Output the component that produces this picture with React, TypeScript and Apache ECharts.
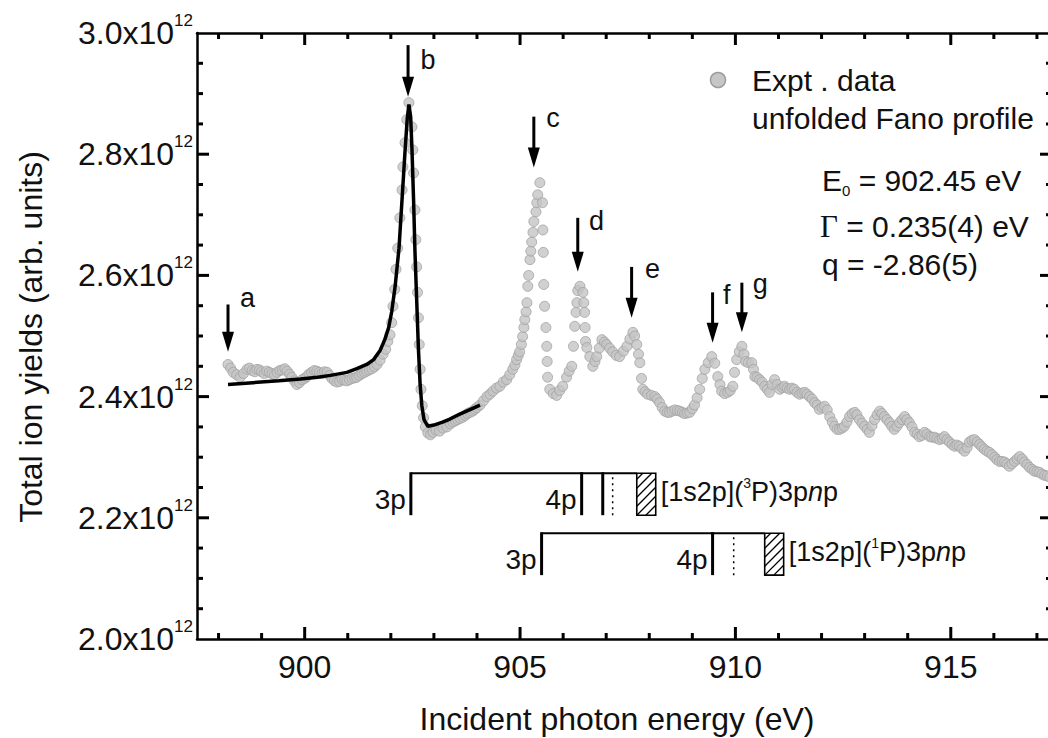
import React, { useEffect, useRef } from "react";
import * as echarts from "echarts";

const FONT = "'Liberation Sans', Arial, Helvetica, sans-serif";
const SERIF = "'Liberation Serif', 'DejaVu Serif', serif";

const X_MIN = 897.5;
const X_MAX = 917.35;
const Y_MIN = 2.0;
const Y_MAX = 3.0;
const Y_INTERVAL = 0.2;
const xMajorTicks = [900, 905, 910, 915];
const xMinorTicks = [898, 899, 901, 902, 903, 904, 906, 907, 908, 909, 911, 912, 913, 914, 916, 917];
const yMajorTicks = [2.2, 2.4, 2.6, 2.8];
const yMinorTicks = [2.05, 2.1, 2.15, 2.25, 2.3, 2.35, 2.45, 2.5, 2.55, 2.65, 2.7, 2.75, 2.85, 2.9, 2.95];
const yExponent = 12;

// Experimental total ion yield (units of 1e12)
const exptData: [number, number][] = [
  [898.22, 2.453], [898.28, 2.447], [898.34, 2.44], [898.42, 2.436], [898.5, 2.432], [898.58, 2.438], [898.66, 2.445],
  [898.72, 2.447], [898.78, 2.443], [898.84, 2.441], [898.89, 2.445], [898.95, 2.444], [899.0, 2.441], [899.06, 2.438],
  [899.12, 2.442], [899.18, 2.44], [899.24, 2.438], [899.3, 2.436], [899.36, 2.44], [899.42, 2.443], [899.48, 2.444],
  [899.54, 2.446], [899.59, 2.442], [899.65, 2.437], [899.7, 2.432], [899.76, 2.426], [899.82, 2.42], [899.88, 2.423],
  [899.94, 2.428], [900.0, 2.43], [900.05, 2.433], [900.1, 2.437], [900.16, 2.44], [900.22, 2.443], [900.28, 2.442],
  [900.34, 2.44], [900.4, 2.438], [900.46, 2.441], [900.52, 2.44], [900.58, 2.435], [900.63, 2.43], [900.69, 2.426],
  [900.75, 2.424], [900.81, 2.425], [900.87, 2.428], [900.93, 2.427], [900.98, 2.426], [901.04, 2.428], [901.1, 2.43],
  [901.16, 2.431], [901.21, 2.432], [901.27, 2.435], [901.33, 2.438], [901.39, 2.44], [901.44, 2.442], [901.5, 2.444],
  [901.56, 2.446], [901.62, 2.449], [901.68, 2.453], [901.75, 2.46], [901.82, 2.47],
  [901.88, 2.478], [901.93, 2.491], [901.98, 2.502], [902.02, 2.522], [902.05, 2.549], [902.09, 2.577], [902.12, 2.61],
  [902.16, 2.645], [902.21, 2.695], [902.26, 2.741], [902.28, 2.779], [902.33, 2.819], [902.37, 2.857], [902.42, 2.885],
  [902.49, 2.845], [902.51, 2.807], [902.53, 2.769], [902.56, 2.708], [902.58, 2.659], [902.6, 2.614], [902.62, 2.572],
  [902.64, 2.53], [902.66, 2.486], [902.68, 2.445], [902.7, 2.412], [902.73, 2.385], [902.76, 2.365], [902.8, 2.35],
  [902.86, 2.34], [902.92, 2.337], [902.98, 2.341], [903.05, 2.345], [903.13, 2.343], [903.21, 2.348], [903.3, 2.35],
  [903.38, 2.355], [903.44, 2.358], [903.5, 2.36], [903.55, 2.362], [903.61, 2.364], [903.67, 2.366], [903.73, 2.369],
  [903.78, 2.372], [903.84, 2.374], [903.9, 2.376], [903.95, 2.379], [904.0, 2.382],
  [904.07, 2.386], [904.15, 2.393], [904.23, 2.4], [904.3, 2.404], [904.37, 2.409], [904.45, 2.414], [904.53, 2.417],
  [904.61, 2.424], [904.69, 2.428], [904.76, 2.436], [904.83, 2.445], [904.88, 2.452], [904.92, 2.461], [904.96, 2.468],
  [904.99, 2.474], [905.03, 2.486], [905.06, 2.499], [905.09, 2.514], [905.11, 2.527], [905.14, 2.54], [905.16, 2.555],
  [905.18, 2.582], [905.2, 2.6], [905.23, 2.626], [905.25, 2.64], [905.27, 2.655], [905.3, 2.671], [905.32, 2.689],
  [905.37, 2.705], [905.39, 2.72], [905.41, 2.733], [905.46, 2.753], [905.52, 2.72], [905.53, 2.675], [905.54, 2.638],
  [905.55, 2.585], [905.57, 2.549], [905.6, 2.514], [905.62, 2.483], [905.63, 2.458], [905.64, 2.432], [905.69, 2.412],
  [905.77, 2.405], [905.85, 2.402], [905.92, 2.41], [905.99, 2.417], [906.08, 2.432], [906.14, 2.442], [906.2, 2.45],
  [906.24, 2.483], [906.27, 2.516], [906.3, 2.539], [906.32, 2.555], [906.34, 2.575], [906.39, 2.582], [906.46, 2.572],
  [906.48, 2.555], [906.5, 2.539], [906.51, 2.514], [906.52, 2.491], [906.55, 2.481], [906.62, 2.466], [906.69, 2.45],
  [906.74, 2.458], [906.78, 2.466], [906.84, 2.48], [906.9, 2.494], [906.96, 2.49], [907.01, 2.486], [907.08, 2.48],
  [907.15, 2.474], [907.23, 2.468], [907.31, 2.466], [907.4, 2.475], [907.48, 2.483], [907.55, 2.495], [907.62, 2.506],
  [907.66, 2.5], [907.71, 2.486], [907.75, 2.47], [907.78, 2.456], [907.82, 2.43], [907.85, 2.412], [907.9, 2.408],
  [907.96, 2.404], [908.05, 2.402], [908.13, 2.4], [908.18, 2.396], [908.24, 2.39], [908.3, 2.382], [908.36, 2.376],
  [908.42, 2.374], [908.47, 2.374], [908.53, 2.376], [908.59, 2.378], [908.65, 2.377], [908.71, 2.376], [908.77, 2.374],
  [908.82, 2.372], [908.88, 2.373], [908.94, 2.374], [909.0, 2.38],
  [909.05, 2.386], [909.11, 2.398], [909.17, 2.412], [909.23, 2.43], [909.29, 2.445], [909.37, 2.456], [909.45, 2.466],
  [909.52, 2.455], [909.59, 2.433], [909.64, 2.42], [909.68, 2.409], [909.75, 2.405], [909.82, 2.407], [909.88, 2.41],
  [909.94, 2.417], [909.98, 2.44], [910.03, 2.461], [910.09, 2.474], [910.15, 2.483], [910.2, 2.47], [910.24, 2.458],
  [910.3, 2.456], [910.38, 2.456], [910.42, 2.445], [910.45, 2.433], [910.5, 2.432], [910.56, 2.428], [910.62, 2.424],
  [910.68, 2.417], [910.74, 2.412], [910.79, 2.407], [910.85, 2.42], [910.91, 2.428], [910.97, 2.42], [911.03, 2.412],
  [911.09, 2.415], [911.14, 2.417], [911.2, 2.414], [911.26, 2.412], [911.31, 2.414], [911.37, 2.412], [911.43, 2.407],
  [911.49, 2.404], [911.55, 2.406], [911.61, 2.407], [911.66, 2.404], [911.72, 2.4], [911.78, 2.396], [911.84, 2.39],
  [911.9, 2.386], [911.95, 2.379], [912.01, 2.382], [912.07, 2.384], [912.13, 2.378], [912.19, 2.367], [912.25, 2.358],
  [912.3, 2.351], [912.36, 2.346], [912.42, 2.346], [912.48, 2.348], [912.53, 2.351], [912.59, 2.358], [912.65, 2.367],
  [912.71, 2.372], [912.77, 2.374], [912.82, 2.37], [912.88, 2.362], [912.94, 2.356], [913.0, 2.351], [913.06, 2.346],
  [913.11, 2.341], [913.17, 2.352], [913.23, 2.362], [913.29, 2.37], [913.35, 2.376], [913.4, 2.372], [913.46, 2.367],
  [913.52, 2.362], [913.58, 2.357], [913.63, 2.351], [913.69, 2.346], [913.75, 2.351], [913.81, 2.357], [913.87, 2.362],
  [913.93, 2.367], [913.98, 2.362], [914.04, 2.357], [914.1, 2.35], [914.16, 2.341], [914.22, 2.338], [914.27, 2.334],
  [914.33, 2.336], [914.39, 2.341], [914.45, 2.338], [914.51, 2.334], [914.56, 2.333], [914.62, 2.333], [914.68, 2.331],
  [914.74, 2.329], [914.8, 2.331], [914.85, 2.334], [914.91, 2.329], [914.97, 2.325], [915.03, 2.321], [915.09, 2.318],
  [915.14, 2.32], [915.2, 2.318], [915.26, 2.314], [915.32, 2.31], [915.38, 2.316], [915.43, 2.325], [915.49, 2.328],
  [915.55, 2.329], [915.61, 2.325], [915.67, 2.321], [915.72, 2.317], [915.78, 2.313], [915.84, 2.31], [915.9, 2.308],
  [915.96, 2.304], [916.02, 2.3], [916.07, 2.296], [916.13, 2.293], [916.19, 2.293], [916.25, 2.292], [916.3, 2.289],
  [916.36, 2.285], [916.42, 2.289], [916.48, 2.293], [916.54, 2.297], [916.6, 2.301], [916.66, 2.297], [916.71, 2.292],
  [916.77, 2.288], [916.83, 2.283], [916.89, 2.28], [916.94, 2.277], [917.0, 2.276], [917.06, 2.275], [917.12, 2.272],
  [917.18, 2.27], [917.24, 2.269], [917.3, 2.267],
];

// Unfolded Fano profile fit
const fanoData: [number, number][] = [
  [898.22, 2.42], [898.8, 2.423], [899.4, 2.426], [899.9, 2.429], [900.3, 2.432], [900.6, 2.435], [900.98, 2.44],
  [901.21, 2.446], [901.44, 2.453], [901.6, 2.461], [901.75, 2.476], [901.86, 2.494], [901.95, 2.514], [902.02, 2.54],
  [902.1, 2.582], [902.19, 2.645], [902.26, 2.725], [902.33, 2.805], [902.38, 2.858], [902.42, 2.882], [902.46, 2.862],
  [902.49, 2.81], [902.53, 2.72], [902.56, 2.64], [902.6, 2.56], [902.64, 2.48], [902.68, 2.42], [902.72, 2.385],
  [902.77, 2.362], [902.86, 2.351], [903.0, 2.353], [903.2, 2.358], [903.37, 2.363], [903.6, 2.371], [903.85, 2.379],
  [904.07, 2.386],
];

// Peak markers: arrow x, arrow top, arrow tip, label position (data units)
const arrowMarks = [
  { label: "a", x: 898.22, yTop: 2.552, yTip: 2.474, lx: 898.5, ly: 2.562 },
  { label: "b", x: 902.4, yTop: 2.98, yTip: 2.895, lx: 902.69, ly: 2.956 },
  { label: "c", x: 905.32, yTop: 2.862, yTip: 2.778, lx: 905.61, ly: 2.86 },
  { label: "d", x: 906.34, yTop: 2.695, yTip: 2.606, lx: 906.6, ly: 2.689 },
  { label: "e", x: 907.59, yTop: 2.614, yTip: 2.53, lx: 907.9, ly: 2.61 },
  { label: "f", x: 909.47, yTop: 2.572, yTip: 2.489, lx: 909.71, ly: 2.568 },
  { label: "g", x: 910.15, yTop: 2.588, yTip: 2.506, lx: 910.4, ly: 2.585 },
];

// Rydberg series level diagrams
const levelSets = [
  {
    yTop: 2.2735, yBottom: 2.2043, solid: [902.465, 906.43, 906.92], dotted: [907.15], box: [907.71, 908.15],
    names: [{ text: "3p", x: 902.465 }, { text: "4p", x: 906.43 }], term: "3",
  },
  {
    yTop: 2.1746, yBottom: 2.1054, solid: [905.5, 909.47], dotted: [909.96], box: [910.68, 911.12],
    names: [{ text: "3p", x: 905.5 }, { text: "4p", x: 909.47 }], term: "1",
  },
];

function buildTicks(chart: echarts.ECharts) {
  const P = (x: number, y: number) => chart.convertToPixel({ gridIndex: 0 }, [x, y]) as number[];
  const els: any[] = [];
  [...xMajorTicks, ...xMinorTicks].forEach((v) => {
    const pb = P(v, Y_MIN);
    const pt = P(v, Y_MAX);
    const len = xMajorTicks.includes(v) ? 12 : 6;
    els.push({ type: "rect", z: 10, shape: { x: pb[0] - 1.5, y: pb[1] - len, width: 3, height: len }, style: { fill: "#000" } });
    els.push({ type: "rect", z: 10, shape: { x: pt[0] - 1.5, y: pt[1], width: 3, height: len }, style: { fill: "#000" } });
  });
  [...yMajorTicks, ...yMinorTicks].forEach((v) => {
    const pl = P(X_MIN, v);
    const pr = P(X_MAX, v);
    const len = yMajorTicks.includes(v) ? 12 : 6;
    els.push({ type: "rect", z: 10, shape: { x: pl[0], y: pl[1] - 1.5, width: len, height: 3 }, style: { fill: "#000" } });
    els.push({ type: "rect", z: 10, shape: { x: pr[0] - len, y: pr[1] - 1.5, width: len, height: 3 }, style: { fill: "#000" } });
  });
  return els;
}

function buildAnnotations(chart: echarts.ECharts) {
  const P = (x: number, y: number) => chart.convertToPixel({ gridIndex: 0 }, [x, y]) as number[];
  const els: any[] = [];
  const txt = (text: string, x: number, y: number, size: number, align = "left") => ({
    type: "text",
    style: { text, x, y, font: `${size}px ${FONT}`, fill: "#111", align, textAlign: align, verticalAlign: "middle", textVerticalAlign: "middle" },
  });

  arrowMarks.forEach((a) => {
    const top = P(a.x, a.yTop);
    const tip = P(a.x, a.yTip);
    const headH = 20;
    els.push({ type: "line", shape: { x1: top[0], y1: top[1], x2: tip[0], y2: tip[1] - headH + 2 }, style: { stroke: "#000", lineWidth: 3 } });
    els.push({ type: "polygon", shape: { points: [[tip[0] - 6, tip[1] - headH], [tip[0] + 6, tip[1] - headH], [tip[0], tip[1]]] }, style: { fill: "#000" } });
    const lp = P(a.lx, a.ly);
    els.push(txt(a.label, lp[0], lp[1], 27));
  });

  levelSets.forEach((s) => {
    const left = P(s.solid[0], s.yTop);
    const bx0 = P(s.box[0], s.yTop);
    const bx1 = P(s.box[1], s.yBottom);
    const yT = left[1];
    const yB = P(s.solid[0], s.yBottom)[1];
    els.push({ type: "line", shape: { x1: left[0], y1: yT, x2: bx0[0], y2: yT }, style: { stroke: "#000", lineWidth: 2 } });
    s.solid.forEach((x) => {
      const px = P(x, s.yTop)[0];
      els.push({ type: "line", shape: { x1: px, y1: yT - 1, x2: px, y2: yB }, style: { stroke: "#000", lineWidth: 3 } });
    });
    s.dotted.forEach((x) => {
      const px = P(x, s.yTop)[0];
      els.push({ type: "line", shape: { x1: px, y1: yT + 4, x2: px, y2: yB }, style: { stroke: "#000", lineWidth: 1.5, lineDash: [2, 4] } });
    });
    const w = bx1[0] - bx0[0];
    const h = bx1[1] - yT;
    els.push({ type: "rect", shape: { x: bx0[0], y: yT, width: w, height: h }, style: { fill: "none", stroke: "#000", lineWidth: 1.6 } });
    for (let t = -h + 6; t < w; t += 9) {
      const u0 = Math.max(0, -t / h);
      const u1 = Math.min(1, (w - t) / h);
      if (u1 <= u0) continue;
      els.push({
        type: "line",
        shape: { x1: bx0[0] + t + u0 * h, y1: yT + h - u0 * h, x2: bx0[0] + t + u1 * h, y2: yT + h - u1 * h },
        style: { stroke: "#000", lineWidth: 1.3 },
      });
    }
    s.names.forEach((n) => {
      const px = P(n.x, s.yTop)[0];
      els.push(txt(n.text, px - 5, yB - 16, 28, "right"));
    });
    els.push({
      type: "text",
      style: {
        text: `{n|[1s2p](}{s|${s.term}}{n|P)3p}{i|n}{n|p}`,
        x: bx1[0] + 5, y: yT + 19, align: "left", textAlign: "left", verticalAlign: "middle", textVerticalAlign: "middle",
        fill: "#111", font: `27px ${FONT}`,
        rich: {
          n: { fontSize: 27, fontFamily: FONT, lineHeight: 32, fill: "#111" },
          s: { fontSize: 14, fontFamily: FONT, lineHeight: 14, verticalAlign: "top", fill: "#111" },
          i: { fontSize: 27, fontFamily: FONT, fontStyle: "italic", lineHeight: 32, fill: "#111" },
        },
      },
    });
  });

  els.push({ type: "circle", shape: { cx: 718, cy: 80, r: 7.5 }, style: { fill: "#c6c6c6", stroke: "#9c9c9c", lineWidth: 1.5 } });
  els.push(txt("Expt . data", 752, 80, 30));
  els.push(txt("unfolded Fano profile", 752, 118, 30));

  els.push({
    type: "text",
    style: {
      text: "{m|E}{sub|0}{m| = 902.45 eV}", x: 822, y: 180, align: "left", textAlign: "left",
      verticalAlign: "middle", textVerticalAlign: "middle", fill: "#111", font: `30px ${FONT}`,
      rich: {
        m: { fontSize: 30, fontFamily: FONT, lineHeight: 36, fill: "#111" },
        sub: { fontSize: 15, fontFamily: FONT, lineHeight: 15, verticalAlign: "bottom", fill: "#111" },
      },
    },
  });
  els.push({
    type: "text",
    style: {
      text: "{g|Γ}{m| = 0.235(4) eV}", x: 820, y: 226, align: "left", textAlign: "left",
      verticalAlign: "middle", textVerticalAlign: "middle", fill: "#111", font: `30px ${FONT}`,
      rich: {
        g: { fontSize: 31, fontFamily: SERIF, lineHeight: 36, fill: "#111" },
        m: { fontSize: 30, fontFamily: FONT, lineHeight: 36, fill: "#111" },
      },
    },
  });
  els.push(txt("q = -2.86(5)", 822, 264, 30));

  els.push(txt("Incident photon energy (eV)", 617, 719, 32, "center"));
  els.push({ type: "text", x: 31, y: 337, rotation: Math.PI / 2, style: { text: "Total ion yields (arb. units)", x: 0, y: 0, font: `32px ${FONT}`, fill: "#111", align: "center", textAlign: "center", verticalAlign: "middle", textVerticalAlign: "middle" } });
  return els;
}

export default function App() {
  const ref = useRef<HTMLDivElement>(null);
  useEffect(() => {
    if (!ref.current) return;
    const chart = echarts.init(ref.current, undefined, { renderer: "svg" });
    const axisLineStyle = { color: "#000", width: 2.5 };
    chart.setOption({
      animation: false,
      backgroundColor: "#fff",
      textStyle: { fontFamily: FONT },
      grid: { left: 197, top: 33, right: -4, bottom: 99, containLabel: false, outerBoundsMode: "none" },
      xAxis: [
        {
          type: "value", position: "bottom", min: X_MIN, max: X_MAX, interval: 0.5,
          axisLine: { show: true, lineStyle: axisLineStyle, onZero: false },
          axisTick: { show: false }, splitLine: { show: false },
          axisLabel: {
            fontSize: 32, color: "#111", fontFamily: FONT, margin: 12,
            formatter: (v: number) => (xMajorTicks.some((m) => Math.abs(m - v) < 1e-6) ? String(v) : ""),
          },
        },
        {
          type: "value", position: "top", min: X_MIN, max: X_MAX,
          axisLine: { show: true, lineStyle: axisLineStyle, onZero: false },
          axisTick: { show: false }, axisLabel: { show: false }, splitLine: { show: false },
        },
      ],
      yAxis: [
        {
          type: "value", position: "left", min: Y_MIN, max: Y_MAX, interval: Y_INTERVAL,
          axisLine: { show: true, lineStyle: axisLineStyle, onZero: false },
          axisTick: { show: false }, splitLine: { show: false },
          axisLabel: {
            margin: 4, color: "#111",
            formatter: (v: number) => `{m|${v.toFixed(1)}x10}{s|${yExponent}}`,
            rich: {
              m: { fontSize: 32, fontFamily: FONT, lineHeight: 42, color: "#111" },
              s: { fontSize: 17, fontFamily: FONT, lineHeight: 17, verticalAlign: "top", color: "#111" },
            },
          },
        },
        {
          type: "value", position: "right", min: Y_MIN, max: Y_MAX, interval: Y_INTERVAL,
          axisLine: { show: true, lineStyle: axisLineStyle, onZero: false },
          axisTick: { show: false }, splitLine: { show: false }, axisLabel: { show: false },
        },
      ],
      series: [
        {
          name: "Expt . data", type: "scatter", data: exptData, symbol: "circle", symbolSize: 10,
          itemStyle: { color: "#c4c4c4", borderColor: "#a2a2a2", borderWidth: 1 }, z: 2, silent: true,
        },
        {
          name: "unfolded Fano profile", type: "line", data: fanoData, showSymbol: false, symbol: "none",
          lineStyle: { color: "#000", width: 3.5 }, z: 3, silent: true,
        },
      ],
    });
    chart.setOption({ graphic: [...buildTicks(chart), ...buildAnnotations(chart)] });
    return () => chart.dispose();
  }, []);
  return <div ref={ref} style={{ position: "fixed", left: 0, top: 0, width: 1048, height: 738 }} />;
}
